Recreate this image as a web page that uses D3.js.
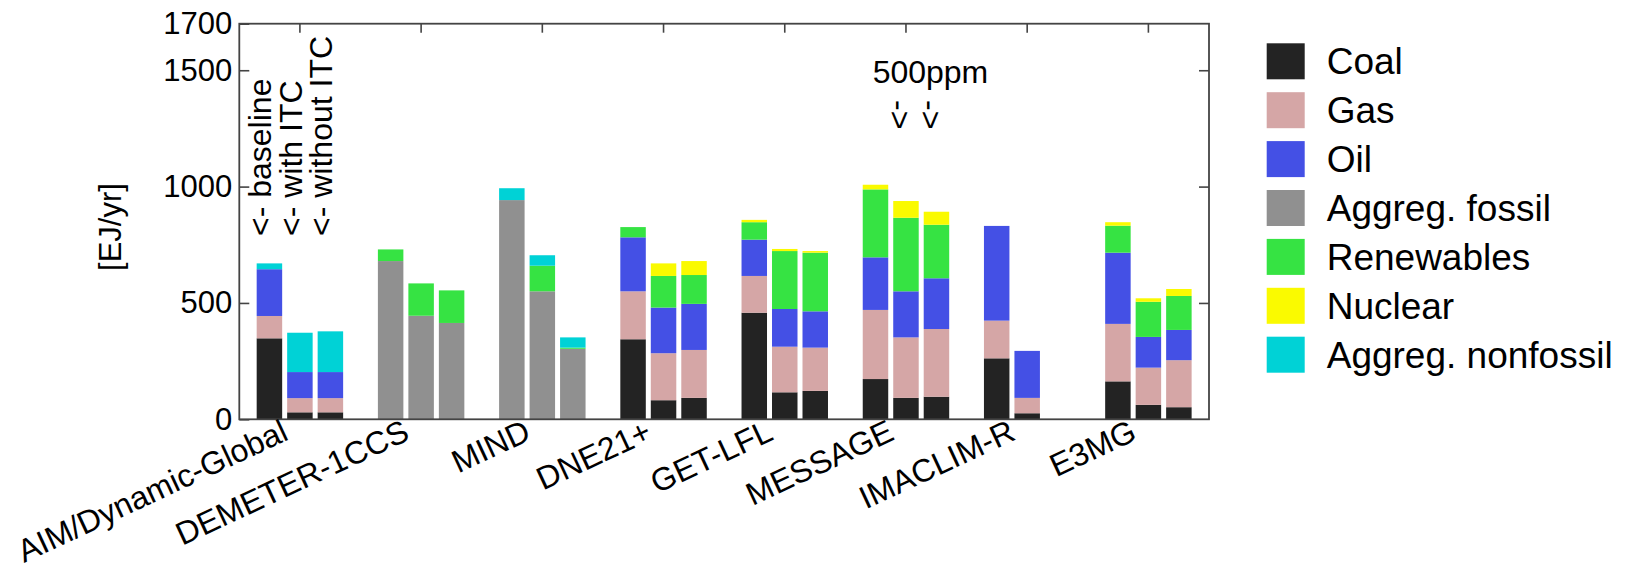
<!DOCTYPE html>
<html>
<head>
<meta charset="utf-8">
<script src="https://cdn.jsdelivr.net/npm/d3@7"></script>
<style>
  body { margin: 0; background: #fff; }
  text { font-family: Arial, "Liberation Sans", sans-serif; fill: #000; }
</style>
</head>
<body>
<script>
// models on the x axis, three scenarios each (baseline, with ITC, without ITC)
var models = ['AIM/Dynamic-Global', 'DEMETER-1CCS', 'MIND', 'DNE21+',
  'GET-LFL', 'MESSAGE', 'IMACLIM-R', 'E3MG'];
var scenarioNotes = ['<- baseline', '<- with ITC', '<- without ITC'];
var yTicks = [0, 500, 1000, 1500, 1700];

// EJ/yr, 3 values per model in the order of models; null = no bar
var coal      = [348, 30, 30,   0, 0, 0,       0, 0, 0,     344, 82, 92,   458, 116, 122, 173, 92, 97,   262, 26, null, 163, 62, 52];
var gas       = [96, 61, 61,    0, 0, 0,       0, 0, 0,     206, 202, 206, 158, 196, 186, 297, 260, 291, 162, 66, null, 247, 160, 202];
var oil       = [201, 112, 112, 0, 0, 0,       0, 0, 0,     232, 196, 198, 156, 162, 156, 226, 198, 218, 407, 202, null, 306, 132, 130];
var fossil    = [0, 0, 0,       680, 445, 414, 942, 550, 303, 0, 0, 0,     0, 0, 0,       0, 0, 0,       0, 0, null,    0, 0, 0];
var renew     = [0, 0, 0,       50, 139, 140,  0, 110, 5,   44, 136, 124,  75, 249, 252,  292, 316, 230, 0, 0, null,    116, 151, 146];
var nuclear   = [0, 0, 0,       0, 0, 0,       0, 0, 0,     0, 54, 60,     10, 9, 7,      20, 72, 56,    0, 0, null,    15, 15, 30];
var nonfossil = [25, 169, 175,  0, 0, 0,       51, 45, 44,  0, 0, 0,       0, 0, 0,       0, 0, 0,       0, 0, null,    0, 0, 0];

var seriesNames = ['Coal', 'Gas', 'Oil', 'Aggreg. fossil', 'Renewables', 'Nuclear', 'Aggreg. nonfossil'];
var seriesData = [coal, gas, oil, fossil, renew, nuclear, nonfossil];
var seriesColors = ['#232323', '#d5a6a6', '#4450e5', '#909090', '#36e343', '#fafa00', '#00d2d6'];

var svg = d3.select('body').append('svg')
  .attr('width', 1640)
  .attr('height', 570);

var x = d3.scaleBand().domain(models).range([239.3, 1209]).padding(0);
var xs = d3.scaleBand().domain([0, 1, 2]).range([0, x.bandwidth()])
  .paddingInner(0.164).paddingOuter(0.57);
var y = d3.scaleLinear().domain([0, 1700]).range([419.3, 23.7]);
var color = d3.scaleOrdinal().domain(seriesNames).range(seriesColors);

// one row per bar
var rows = [];
coal.forEach(function(v, i) {
  if (v === null) return;
  var r = {model: models[Math.floor(i / 3)], slot: i % 3};
  seriesNames.forEach(function(s, k) { r[s] = seriesData[k][i]; });
  rows.push(r);
});

var stacked = d3.stack().keys(seriesNames)(rows);

svg.append('g').selectAll('g')
  .data(stacked)
  .enter().append('g')
  .attr('fill', function(d) { return color(d.key); })
  .selectAll('rect')
  .data(function(d) { return d.filter(function(p) { return p[1] > p[0]; }); })
  .enter().append('rect')
  .attr('x', function(d) { return x(d.data.model) + xs(d.data.slot); })
  .attr('width', xs.bandwidth())
  .attr('y', function(d) { return y(d[1]); })
  .attr('height', function(d) { return y(d[0]) - y(d[1]); });

// axes: ticks inward, frame drawn separately
var yAxis = svg.append('g')
  .attr('transform', 'translate(239.3,0)')
  .call(d3.axisLeft(y).tickValues(yTicks).tickSize(-10).tickPadding(7).tickFormat(d3.format('d')));
yAxis.select('.domain').remove();
yAxis.selectAll('text').attr('font-size', 31).attr('font-family', 'Arial, "Liberation Sans", sans-serif');
yAxis.selectAll('line').attr('stroke', '#444').attr('stroke-width', 1.6);

var yRight = svg.append('g')
  .attr('transform', 'translate(1209,0)')
  .call(d3.axisRight(y).tickValues([500, 1000, 1500]).tickSize(-10).tickFormat(''));
yRight.select('.domain').remove();
yRight.selectAll('line').attr('stroke', '#444').attr('stroke-width', 1.6);

var xTop = svg.append('g')
  .attr('transform', 'translate(0,23.7)')
  .call(d3.axisTop(x).tickSize(-9).tickFormat(''));
xTop.select('.domain').remove();
xTop.selectAll('line').attr('stroke', '#444').attr('stroke-width', 1.6);

svg.append('rect')
  .attr('x', 239.3).attr('y', 23.7)
  .attr('width', 1209 - 239.3).attr('height', 419.3 - 23.7)
  .attr('fill', 'none')
  .attr('stroke', '#444')
  .attr('stroke-width', 1.8);

// rotated model names
svg.append('g').selectAll('text')
  .data(models)
  .enter().append('text')
  .attr('transform', function(d) {
    return 'translate(' + (x(d) + x.bandwidth() / 2 - 10) + ',439) rotate(-25)';
  })
  .attr('text-anchor', 'end')
  .attr('font-size', 32)
  .text(function(d) { return d; });

svg.append('text')
  .attr('transform', 'translate(121,227) rotate(-90)')
  .attr('text-anchor', 'middle')
  .attr('font-size', 31)
  .text('[EJ/yr]');

// scenario notes over the first model
var m0 = models[0];
svg.append('g').selectAll('text')
  .data(scenarioNotes)
  .enter().append('text')
  .attr('transform', function(d, i) {
    return 'translate(' + (x(m0) + xs(i) + xs.bandwidth() / 2 + 2) + ',236) rotate(-90)';
  })
  .attr('font-size', 32)
  .text(function(d) { return d; });

// 500ppm note over MESSAGE
var mm = 'MESSAGE';
svg.append('text')
  .attr('x', x(mm) + xs(2) + xs.bandwidth() / 2 - 6)
  .attr('y', 83)
  .attr('text-anchor', 'middle')
  .attr('font-size', 32)
  .text('500ppm');

svg.append('g').selectAll('text')
  .data([1, 2])
  .enter().append('text')
  .attr('transform', function(d) {
    return 'translate(' + (x(mm) + xs(d) + xs.bandwidth() / 2 - 7) + ',100) rotate(90)';
  })
  .attr('dy', '0.3em')
  .attr('font-size', 32)
  .text('->');

// legend
var legend = svg.append('g').selectAll('g')
  .data(seriesNames)
  .enter().append('g')
  .attr('transform', function(d, i) { return 'translate(1266.7,' + (43.3 + i * 48.9) + ')'; });

legend.append('rect')
  .attr('width', 38)
  .attr('height', 36)
  .attr('fill', function(d) { return color(d); });

legend.append('text')
  .attr('x', 60)
  .attr('y', 18)
  .attr('dy', '0.35em')
  .attr('font-size', 37)
  .text(function(d) { return d; });
</script>
</body>
</html>
